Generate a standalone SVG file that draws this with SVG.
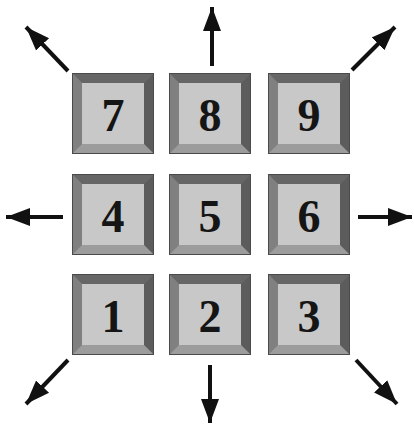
<svg xmlns="http://www.w3.org/2000/svg" xmlns:xlink="http://www.w3.org/1999/xlink" width="414" height="425" viewBox="0 0 414 425">
<style>
.num{font-family:"Liberation Serif","Times New Roman",serif;font-weight:bold;font-size:46px;fill:#151515;text-anchor:middle}
.arr{stroke:#111;stroke-width:4;fill:none;marker-end:url(#ah)}
</style>
<defs>
<marker id="ah" markerUnits="userSpaceOnUse" markerWidth="26" markerHeight="20" refX="24" refY="9" orient="auto" viewBox="0 0 26 18">
<path d="M0,0 L24,9 L0,18 Z" fill="#111"/>
</marker>
<g id="key">
<rect x="0" y="0" width="82" height="81" fill="#777"/>
<polygon points="0,0 82,0 72,10 10,10" fill="#666"/>
<polygon points="0,0 10,10 10,71 0,81" fill="#808080"/>
<polygon points="82,0 82,81 72,71 72,10" fill="#5c5c5c"/>
<polygon points="0,81 10,71 72,71 82,81" fill="#9c9c9c"/>
<rect x="10" y="10" width="62" height="61" fill="#c8c8c8"/>
<rect x="0.5" y="0.5" width="81" height="80" fill="none" stroke="#4a4a4a" stroke-width="1"/>
</g>
</defs>
<rect width="414" height="425" fill="#fff"/>
<g id="k7"><use xlink:href="#key" x="72" y="73"/><text class="num" x="113" y="131">7</text></g>
<g id="k8"><use xlink:href="#key" x="169" y="73"/><text class="num" x="210" y="131">8</text></g>
<g id="k9"><use xlink:href="#key" x="268" y="73"/><text class="num" x="309" y="131">9</text></g>
<g id="k4"><use xlink:href="#key" x="72" y="174"/><text class="num" x="113" y="232">4</text></g>
<g id="k5"><use xlink:href="#key" x="169" y="174"/><text class="num" x="210" y="232">5</text></g>
<g id="k6"><use xlink:href="#key" x="268" y="174"/><text class="num" x="309" y="232">6</text></g>
<g id="k1"><use xlink:href="#key" x="72" y="274"/><text class="num" x="113" y="332">1</text></g>
<g id="k2"><use xlink:href="#key" x="169" y="274"/><text class="num" x="210" y="332">2</text></g>
<g id="k3"><use xlink:href="#key" x="268" y="274"/><text class="num" x="309" y="332">3</text></g>
<g id="connectors">
<line class="arr" x1="212" y1="66" x2="212" y2="7"/>
<line class="arr" x1="210" y1="365" x2="210" y2="423"/>
<line class="arr" x1="63" y1="217" x2="6" y2="217"/>
<line class="arr" x1="358" y1="217" x2="412" y2="217"/>
<line class="arr" x1="68" y1="71" x2="26" y2="27"/>
<line class="arr" x1="352" y1="70" x2="395" y2="27"/>
<line class="arr" x1="356" y1="360" x2="397" y2="404"/>
<line class="arr" x1="68" y1="360" x2="26" y2="404"/>
</g>
</svg>
